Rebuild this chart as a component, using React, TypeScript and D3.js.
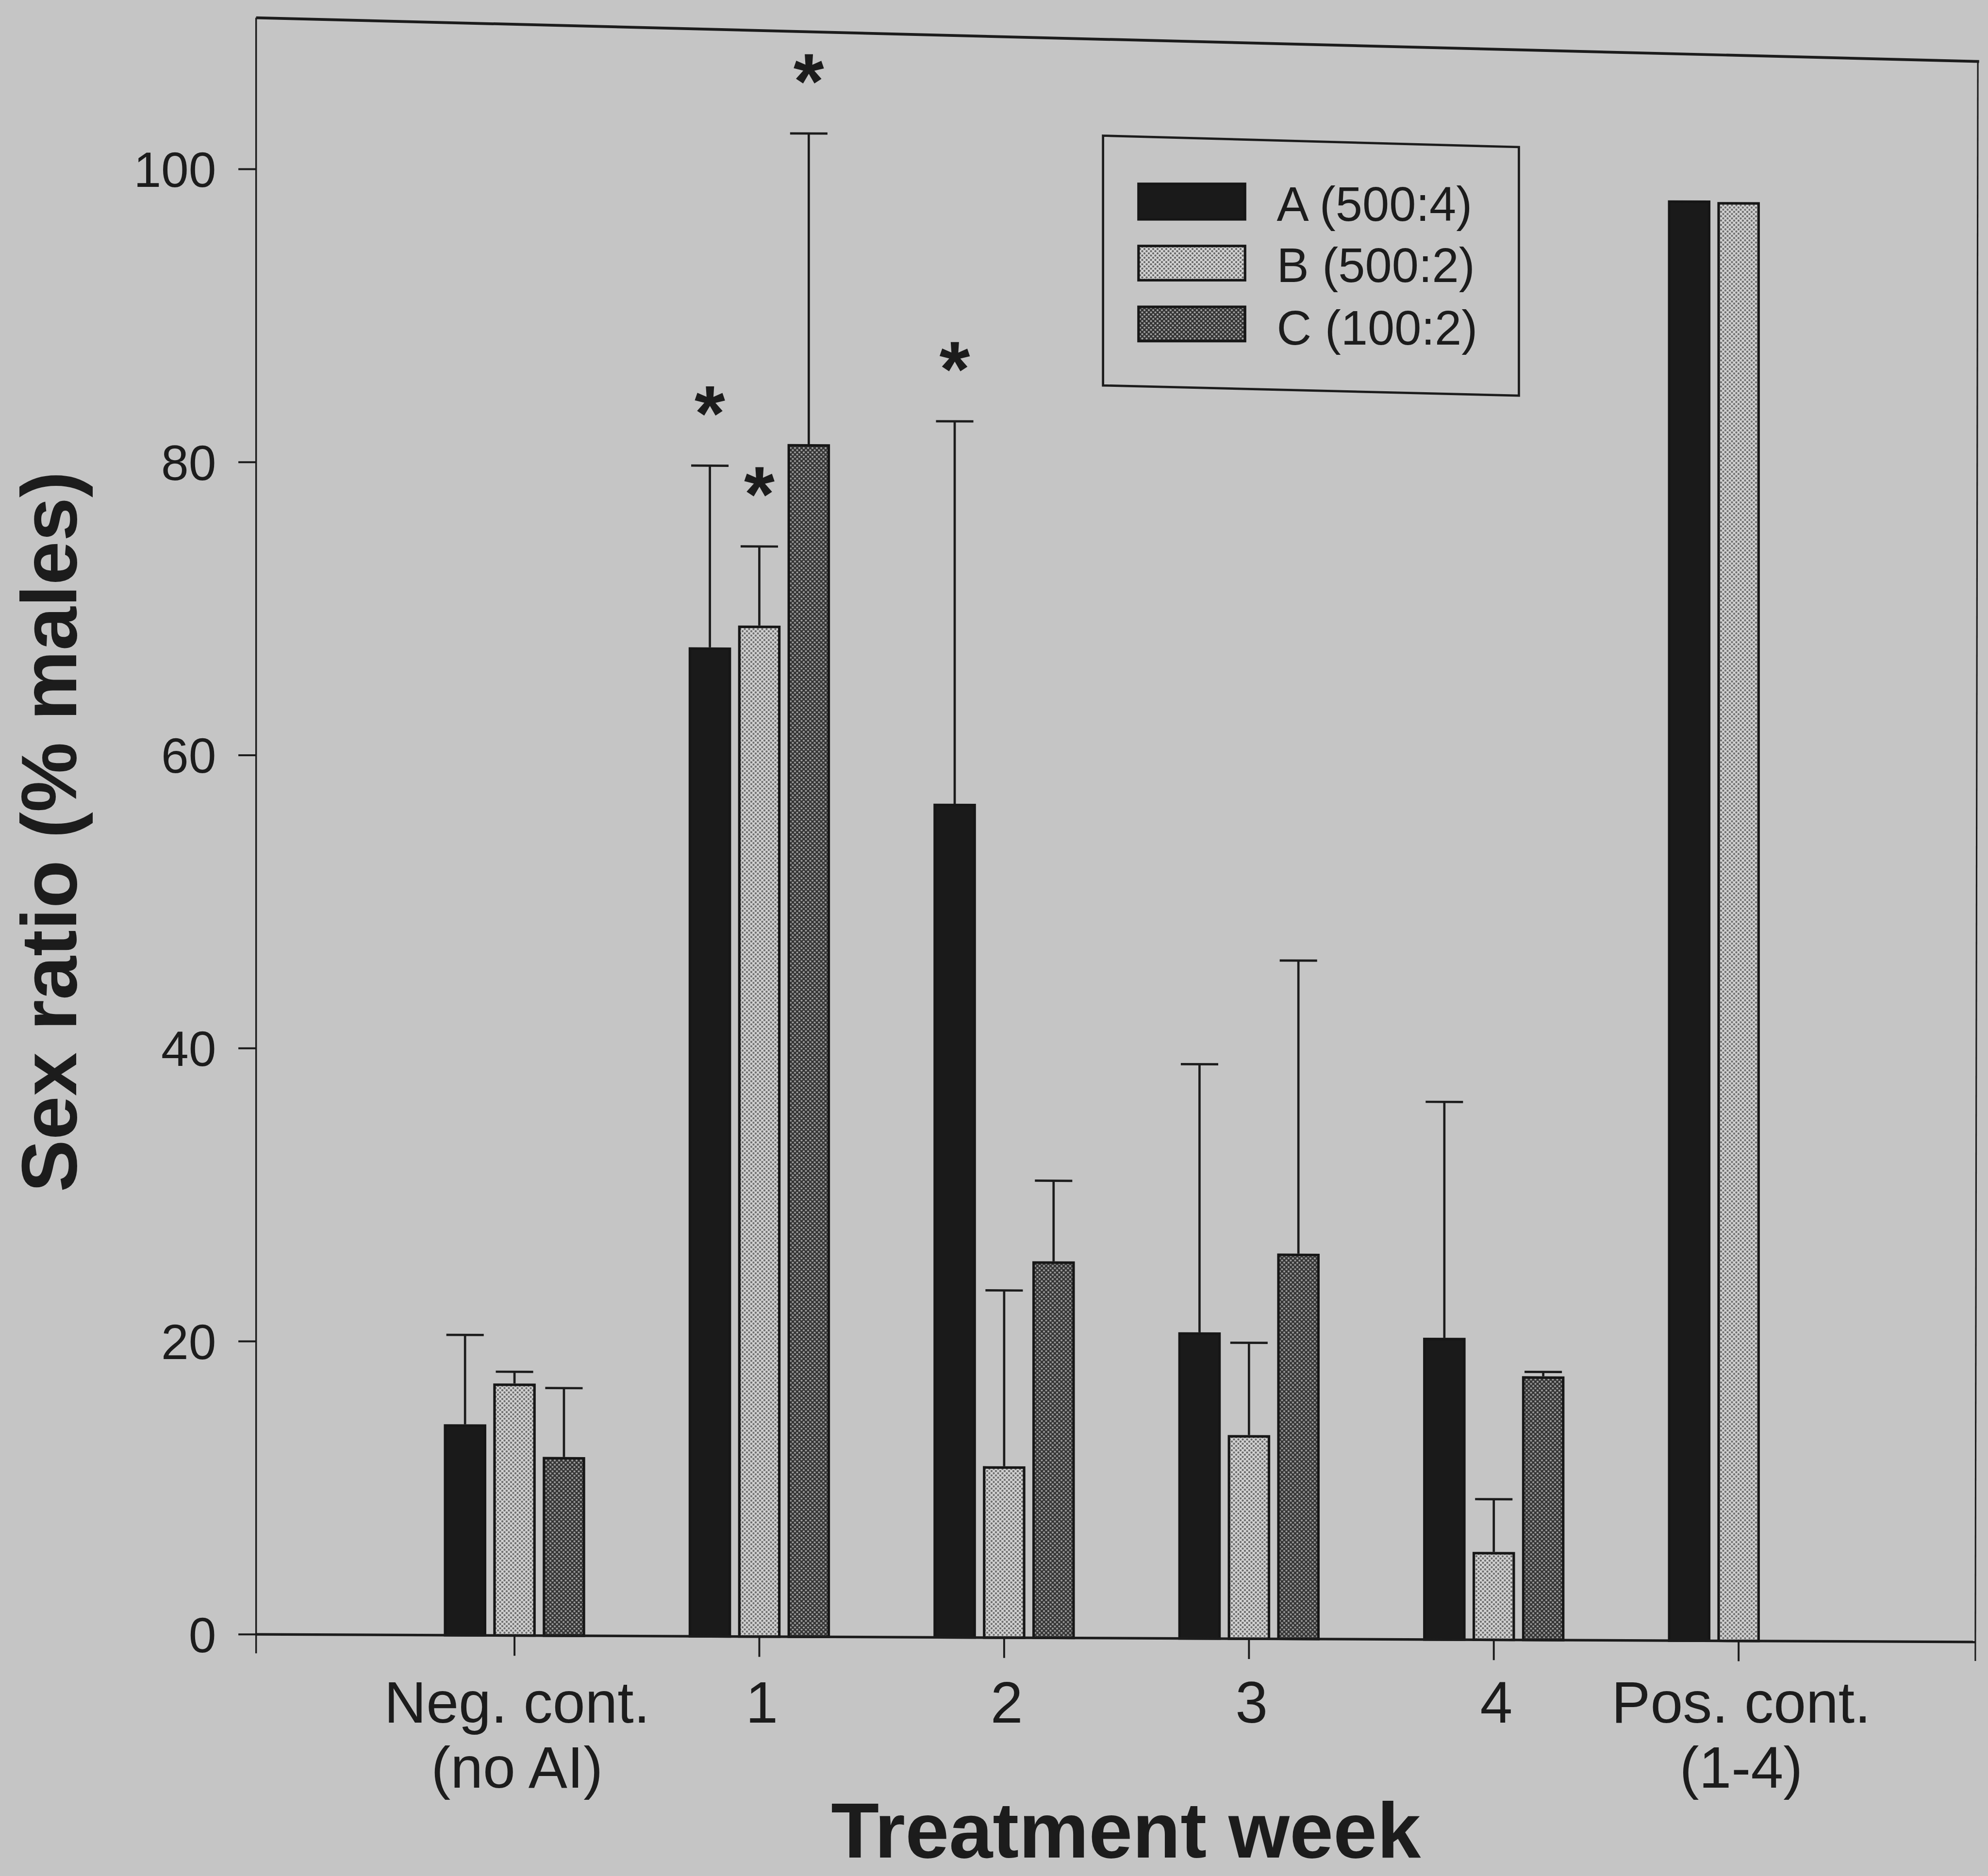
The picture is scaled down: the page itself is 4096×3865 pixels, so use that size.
import React from "react";
import * as d3 from "d3";

// ---------- data ----------
const categoriesLine1 = ["Neg. cont.", "1", "2", "3", "4", "Pos. cont."];
const categoriesLine2 = ["(no AI)", "", "", "", "", "(1-4)"];
const seriesKeys = ["A", "B", "C"];
const seriesNames = ["A (500:4)", "B (500:2)", "C (100:2)"];

const meanA = [14.4, 67.5, 56.9, 20.9, 20.6, 98.3];
const meanB = [17.2, 69.0, 11.7, 13.9, 6.0, 98.2];
const meanC = [12.2, 81.4, 25.7, 26.3, 18.0, null];

const seA = [6.1, 12.4, 26.1, 18.3, 16.1, null];
const seB = [0.8, 5.4, 12.0, 6.3, 3.6, null];
const seC = [4.7, 21.2, 5.5, 20.0, 0.3, null];

const sigA = [false, true, true, false, false, false];
const sigB = [false, true, false, false, false, false];
const sigC = [false, true, false, false, false, false];

const yTicks = [0, 20, 40, 60, 80, 100];

// ---------- layout ----------
const W = 4096;
const H = 3865;
const K = 4096 / 1568;
const FONT = "'Liberation Sans', Arial, Helvetica, sans-serif";
const INK = "#1c1c1c";
const BG = "#c5c5c5";

export default function App() {
  const xLeft = 202 * K;
  const xRight = 1558 * K;
  const y0 = 1289 * K;

  const y = d3.scaleLinear().domain([0, 100]).range([y0, 133.4 * K]);
  const x = d3.scaleLinear().domain([0, 5]).range([405.8 * K, 1371.3 * K]);
  const inner = d3
    .scaleBand<string>()
    .domain(seriesKeys)
    .range([-58.5 * K, 58.5 * K])
    .paddingInner(0.141)
    .paddingOuter(0.0705);
  const bw = inner.bandwidth();

  const series = [
    { key: "A", name: seriesNames[0], means: meanA, se: seA, sig: sigA, fill: "#1a1a1a" },
    { key: "B", name: seriesNames[1], means: meanB, se: seB, sig: sigB, fill: "url(#patB)" },
    { key: "C", name: seriesNames[2], means: meanC, se: seC, sig: sigC, fill: "url(#patC)" },
  ];

  const skewDeg = (Math.atan(6 / 1356) * 180) / Math.PI;
  const skew = `translate(${xLeft},${y0}) skewY(${skewDeg}) translate(${-xLeft},${-y0})`;

  const sw = 2 * K; // bar outline
  const capHalf = 14.75 * K;
  const tickFont = 39 * K;
  const catFont = 46 * K;
  const legFont = 38 * K;
  const titleFont = 62 * K;
  const starFont = 62 * K;

  const legendSw = [
    { y: 144, h: 30 },
    { y: 193, h: 29 },
    { y: 241, h: 29 },
  ];
  const legendTextY = [174, 222.3, 271.9];

  return (
    <svg
      width={W}
      height={H}
      viewBox={`0 0 ${W} ${H}`}
      style={{ position: "absolute", left: 0, top: 0, display: "block" }}
      fontFamily={FONT}
    >
      <defs>
        <pattern id="patB" width={9} height={9} patternUnits="userSpaceOnUse">
          <rect width={9} height={9} fill="#d4d4d4" />
          <circle cx={0} cy={0} r={2.2} fill="#6a6a6a" />
          <circle cx={9} cy={0} r={2.2} fill="#6a6a6a" />
          <circle cx={0} cy={9} r={2.2} fill="#6a6a6a" />
          <circle cx={9} cy={9} r={2.2} fill="#6a6a6a" />
          <circle cx={4.5} cy={4.5} r={2.2} fill="#6a6a6a" />
        </pattern>
        <pattern id="patC" width={9} height={9} patternUnits="userSpaceOnUse">
          <rect width={9} height={9} fill="#343434" />
          <circle cx={0} cy={0} r={2.1} fill="#a0a0a0" />
          <circle cx={9} cy={0} r={2.1} fill="#a0a0a0" />
          <circle cx={0} cy={9} r={2.1} fill="#a0a0a0" />
          <circle cx={9} cy={9} r={2.1} fill="#a0a0a0" />
          <circle cx={4.5} cy={4.5} r={2.1} fill="#a0a0a0" />
        </pattern>
      </defs>

      <rect x={0} y={0} width={W} height={H} fill={BG} />

      {/* frame */}
      <path
        d={`M${xLeft},${14 * K} L${1561 * K},${48.5 * K}`}
        stroke={INK}
        strokeWidth={2.2 * K}
        fill="none"
      />
      <path
        d={`M${1560 * K},${48 * K} L${xRight},${1310 * K}`}
        stroke={INK}
        strokeWidth={1.2 * K}
        fill="none"
      />
      <path
        d={`M${xLeft},${14 * K} L${xLeft},${1304 * K}`}
        stroke={INK}
        strokeWidth={1.3 * K}
        fill="none"
      />

      {/* y ticks and labels */}
      {yTicks.map((t) => (
        <g key={`yt${t}`}>
          <line
            x1={188 * K}
            x2={xLeft}
            y1={y(t)}
            y2={y(t)}
            stroke={INK}
            strokeWidth={1.5 * K}
          />
          <text
            x={170.5 * K}
            y={y(t) + 0.358 * tickFont}
            fontSize={tickFont}
            textAnchor="end"
            fill={INK}
          >
            {t}
          </text>
        </g>
      ))}

      {/* plot content, with the slight tilt of the scan */}
      <g transform={skew}>
        {series.map((s) =>
          s.means.map((m, i) => {
            if (m == null) return null;
            const cx = x(i) + (inner(s.key) as number) + bw / 2;
            const top = y(m);
            return (
              <rect
                key={`bar${s.key}${i}`}
                x={cx - bw / 2 + sw / 2}
                y={top + sw / 2}
                width={bw - sw}
                height={y0 - top - sw / 2}
                fill={s.fill}
                stroke="#161616"
                strokeWidth={sw}
              />
            );
          })
        )}
        {series.map((s) =>
          s.means.map((m, i) => {
            const e = s.se[i];
            if (m == null || e == null) return null;
            const cx = x(i) + (inner(s.key) as number) + bw / 2;
            const yt = y(m + e);
            return (
              <g key={`err${s.key}${i}`} stroke={INK} strokeWidth={1.8 * K}>
                <line x1={cx} x2={cx} y1={y(m)} y2={yt} />
                <line x1={cx - capHalf} x2={cx + capHalf} y1={yt} y2={yt} />
              </g>
            );
          })
        )}
        {series.map((s) =>
          s.sig.map((flag, i) => {
            const m = s.means[i];
            if (!flag || m == null) return null;
            const cx = x(i) + (inner(s.key) as number) + bw / 2;
            const top = y(m + (s.se[i] ?? 0)) - 54 * K;
            return (
              <text
                key={`star${s.key}${i}`}
                x={cx}
                y={top + 0.55 * starFont}
                fontSize={starFont}
                fontWeight="bold"
                textAnchor="middle"
                fill={INK}
              >
                *
              </text>
            );
          })
        )}
        {/* x axis */}
        <line x1={xLeft} x2={xRight} y1={y0} y2={y0} stroke={INK} strokeWidth={2 * K} />
        {categoriesLine1.map((c, i) => (
          <line
            key={`xt${i}`}
            x1={x(i)}
            x2={x(i)}
            y1={y0}
            y2={y0 + 16 * K}
            stroke={INK}
            strokeWidth={1.5 * K}
          />
        ))}
      </g>

      {/* category labels */}
      {categoriesLine1.map((c, i) => (
        <g key={`xl${i}`}>
          <text
            x={x(i) + 2 * K}
            y={1358.7 * K}
            fontSize={catFont}
            textAnchor="middle"
            fill={INK}
          >
            {c}
          </text>
          {categoriesLine2[i] ? (
            <text
              x={x(i) + 2 * K}
              y={1410 * K}
              fontSize={catFont}
              textAnchor="middle"
              fill={INK}
            >
              {categoriesLine2[i]}
            </text>
          ) : null}
        </g>
      ))}

      {/* axis titles */}
      <text
        x={888 * K}
        y={1465 * K}
        fontSize={titleFont}
        fontWeight="bold"
        textAnchor="middle"
        fill={INK}
      >
        Treatment week
      </text>
      <text
        transform={`translate(${60 * K},${656 * K}) rotate(-90)`}
        fontSize={titleFont}
        fontWeight="bold"
        textAnchor="middle"
        fill={INK}
      >
        Sex ratio (% males)
      </text>

      {/* legend */}
      <path
        d={`M${870 * K},${107 * K} L${1198 * K},${116 * K} L${1198 * K},${312 * K} L${870 * K},${304 * K} Z`}
        fill="none"
        stroke={INK}
        strokeWidth={1.8 * K}
      />
      {series.map((s, i) => (
        <g key={`leg${s.key}`}>
          <rect
            x={897 * K + sw / 2}
            y={legendSw[i].y * K + sw / 2}
            width={86 * K - sw}
            height={legendSw[i].h * K - sw}
            fill={s.fill}
            stroke="#161616"
            strokeWidth={sw}
          />
          <text
            x={1007 * K}
            y={legendTextY[i] * K}
            fontSize={legFont}
            fill={INK}
          >
            {s.name}
          </text>
        </g>
      ))}
    </svg>
  );
}
